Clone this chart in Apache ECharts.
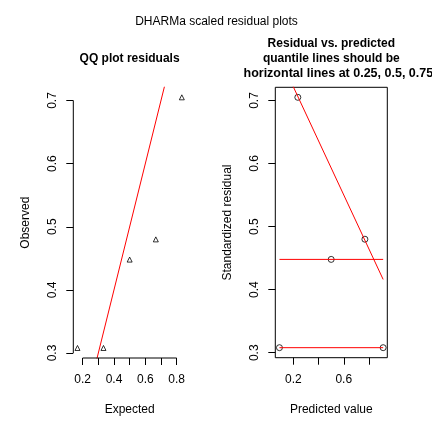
<!DOCTYPE html>
<html>
<head>
<meta charset="utf-8">
<script src="https://cdn.jsdelivr.net/npm/echarts@6/dist/echarts.min.js"></script>
<style>html,body{margin:0;padding:0;background:#fff}#c{width:432px;height:432px}</style>
</head>
<body>
<div id="c"></div>
<script>
// ---- data ----
var expected  = [0.167, 0.333, 0.5, 0.667, 0.833];
var observed  = [0.308, 0.308, 0.448, 0.480, 0.705];
var predicted = [0.089, 0.913, 0.5, 0.768, 0.235];
var residual  = [0.308, 0.308, 0.448, 0.480, 0.705];
var quantIntercept = [0.308, 0.448, 0.807];
var quantSlope     = [0, 0, -0.428];
var qqXTicks  = [0.2, 0.3, 0.4, 0.5, 0.6, 0.7, 0.8];
var qqXLabels = [0.2, 0.4, 0.6, 0.8];
var yTicks    = [0.3, 0.4, 0.5, 0.6, 0.7];
var rvXTicks  = [0.2, 0.4, 0.6, 0.8];
var rvXLabels = [0.2, 0.6];
var mainTitle = 'DHARMa scaled residual plots';
var qqTitle = 'QQ plot residuals';
var rvTitle = ['Residual vs. predicted', 'quantile lines should be', 'horizontal lines at 0.25, 0.5, 0.75'];

function lim(a){var mn=Math.min.apply(null,a),mx=Math.max.apply(null,a),d=(mx-mn)*0.04;return [mn-d,mx+d];}
var qqX = lim(expected), qqY = lim(observed), rvX = lim(predicted), rvY = lim(residual);
function zip(a,b){return a.map(function(v,i){return [v,b[i]];});}

var FONT = '"Liberation Sans", Arial, Helvetica, sans-serif';
var chart = echarts.init(document.getElementById('c'), null, {renderer:'canvas'});

function mkAxis(gi, lims, ticks, labels, isY, name){
  return {
    type:'value', gridIndex:gi, min:lims[0], max:lims[1],
    name:name, nameLocation:'middle', nameGap: isY ? 42 : 46,
    nameTextStyle:{color:'#000', fontSize:12, fontFamily:FONT},
    axisLine:{show:false},
    axisTick:{show:true, inside:false, length:7, customValues:ticks, lineStyle:{color:'#000', width:1}},
    axisLabel:{show:true, customValues:labels, margin: isY ? 15 : 16, rotate: isY ? 90 : 0,
      color:'#000', fontSize:12, fontFamily:FONT, formatter:function(v){return String(+v.toFixed(2));}},
    splitLine:{show:false}
  };
}

var series = [];
// QQ points
series.push({type:'scatter', xAxisIndex:0, yAxisIndex:0, data:zip(expected, observed),
  symbol:'triangle', symbolSize:5, itemStyle:{color:'rgba(0,0,0,0)', borderColor:'#000', borderWidth:1}, silent:true});
// QQ 1:1 line
series.push({type:'line', xAxisIndex:0, yAxisIndex:0, data:[[qqX[0],qqX[0]],[qqX[1],qqX[1]]],
  showSymbol:false, clip:true, lineStyle:{color:'#ff0000', width:1}, silent:true});
// QQ axis lines (R style: from first to last tick)
series.push({type:'line', xAxisIndex:0, yAxisIndex:0, data:[[qqXTicks[0],qqY[0]],[qqXTicks[qqXTicks.length-1],qqY[0]]],
  showSymbol:false, clip:false, lineStyle:{color:'#000', width:1}, silent:true});
series.push({type:'line', xAxisIndex:0, yAxisIndex:0, data:[[qqX[0],yTicks[0]],[qqX[0],yTicks[yTicks.length-1]]],
  showSymbol:false, clip:false, lineStyle:{color:'#000', width:1}, silent:true});
// Residual points
series.push({type:'scatter', xAxisIndex:1, yAxisIndex:1, data:zip(predicted, residual),
  symbol:'circle', symbolSize:6, itemStyle:{color:'rgba(0,0,0,0)', borderColor:'#000', borderWidth:1}, silent:true});
// Quantile lines
var pMin = Math.min.apply(null, predicted), pMax = Math.max.apply(null, predicted);
quantIntercept.forEach(function(a,i){
  var b = quantSlope[i];
  series.push({type:'line', xAxisIndex:1, yAxisIndex:1, data:[[pMin, a+b*pMin],[pMax, a+b*pMax]],
    showSymbol:false, clip:true, lineStyle:{color:'#ff0000', width:1}, silent:true});
});

chart.setOption({
  animation:false,
  backgroundColor:'#fff',
  textStyle:{fontFamily:FONT},
  grid:[
    {left:73.3, top:87.3, width:112.7, height:270.7, show:false},
    {left:275.3, top:87.3, width:112, height:270.4, show:true, borderColor:'#000', borderWidth:1, backgroundColor:'transparent'}
  ],
  xAxis:[
    mkAxis(0, qqX, qqXTicks, qqXLabels, false, 'Expected'),
    mkAxis(1, rvX, rvXTicks, rvXLabels, false, 'Predicted value')
  ],
  yAxis:[
    mkAxis(0, qqY, yTicks, yTicks, true, 'Observed'),
    mkAxis(1, rvY, yTicks, yTicks, true, 'Standardized residual')
  ],
  graphic:[
    {type:'text', x:216.5, y:21.5, style:{text:mainTitle, fill:'#000', font:'12px '+FONT, align:'center', verticalAlign:'middle'}},
    {type:'text', x:129.6, y:59, style:{text:qqTitle, fill:'#000', font:'bold 12px '+FONT, align:'center', verticalAlign:'middle'}},
    {type:'text', x:331.3, y:44, style:{text:rvTitle[0], fill:'#000', font:'bold 12px '+FONT, align:'center', verticalAlign:'middle'}},
    {type:'text', x:331.3, y:58.7, style:{text:rvTitle[1], fill:'#000', font:'bold 12px '+FONT, align:'center', verticalAlign:'middle'}},
    {type:'text', x:243.5, y:73.3, style:{text:rvTitle[2], fill:'#000', font:'bold 12.5px '+FONT, align:'left', verticalAlign:'middle'}}
  ],
  series:series
});
</script>
</body>
</html>
